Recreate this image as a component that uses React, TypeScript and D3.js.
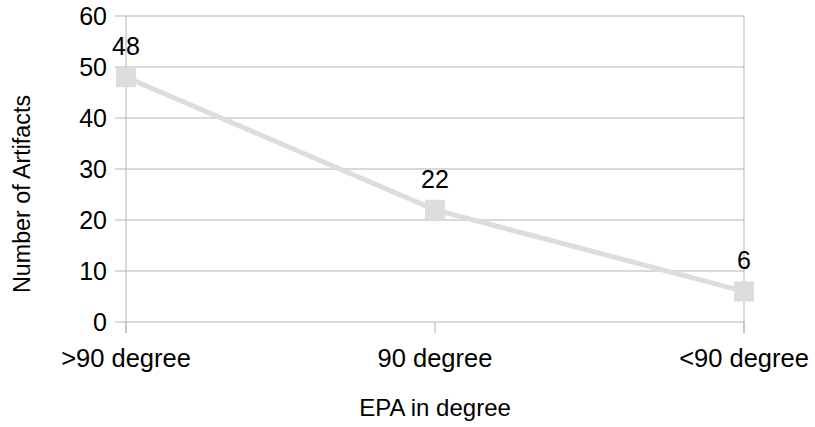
import React from "react";
import * as d3 from "d3";

const categories = [">90 degree", "90 degree", "<90 degree"];
const values = [48, 22, 6];
const yTicks = [0, 10, 20, 30, 40, 50, 60];

const W = 815;
const H = 427;
const left = 126;
const right = 744;
const top = 16;
const bottom = 322;
const font = "'Liberation Sans', Arial, sans-serif";

export default function App() {
  const x = d3.scalePoint<string>().domain(categories).range([left, right]);
  const y = d3.scaleLinear().domain([0, 60]).range([bottom, top]);
  const line = d3
    .line<number>()
    .x((_, i) => x(categories[i]) as number)
    .y((d) => y(d));
  const grid = "#b3b3b3";
  const ms = 20;
  return (
    <svg width={W} height={H} style={{ position: "absolute", left: 0, top: 0, background: "#fff" }}>
      {yTicks.map((t) => (
        <g key={t}>
          <line x1={left - 11} x2={right} y1={y(t)} y2={y(t)} stroke={grid} strokeWidth={1} />
          <text x={107} y={y(t) + 9} textAnchor="end" fontFamily={font} fontSize={25} fill="#000">
            {t}
          </text>
        </g>
      ))}
      <line x1={left} x2={left} y1={top} y2={bottom + 11} stroke={grid} strokeWidth={1} />
      <line x1={right} x2={right} y1={top} y2={bottom + 11} stroke={grid} strokeWidth={1} />
      {categories.map((c) => (
        <g key={c}>
          <line x1={x(c)} x2={x(c)} y1={bottom} y2={bottom + 11} stroke={grid} strokeWidth={1} />
          <text x={x(c)} y={367} textAnchor="middle" fontFamily={font} fontSize={25.5} fill="#000">
            {c}
          </text>
        </g>
      ))}
      <path d={line(values) || ""} fill="none" stroke="#dddddd" strokeWidth={5} />
      {values.map((v, i) => (
        <g key={i}>
          <rect
            x={(x(categories[i]) as number) - ms / 2}
            y={y(v) - ms / 2}
            width={ms}
            height={ms}
            fill="#dddddd"
          />
          <text
            x={x(categories[i]) as number}
            y={y(v) - 22}
            textAnchor="middle"
            fontFamily={font}
            fontSize={25}
            fill="#000"
          >
            {v}
          </text>
        </g>
      ))}
      <text x={435} y={416} textAnchor="middle" fontFamily={font} fontSize={24} fill="#000">
        EPA in degree
      </text>
      <text
        transform={`translate(30,194) rotate(-90)`}
        textAnchor="middle"
        fontFamily={font}
        fontSize={23.3}
        fill="#000"
      >
        Number of Artifacts
      </text>
    </svg>
  );
}
